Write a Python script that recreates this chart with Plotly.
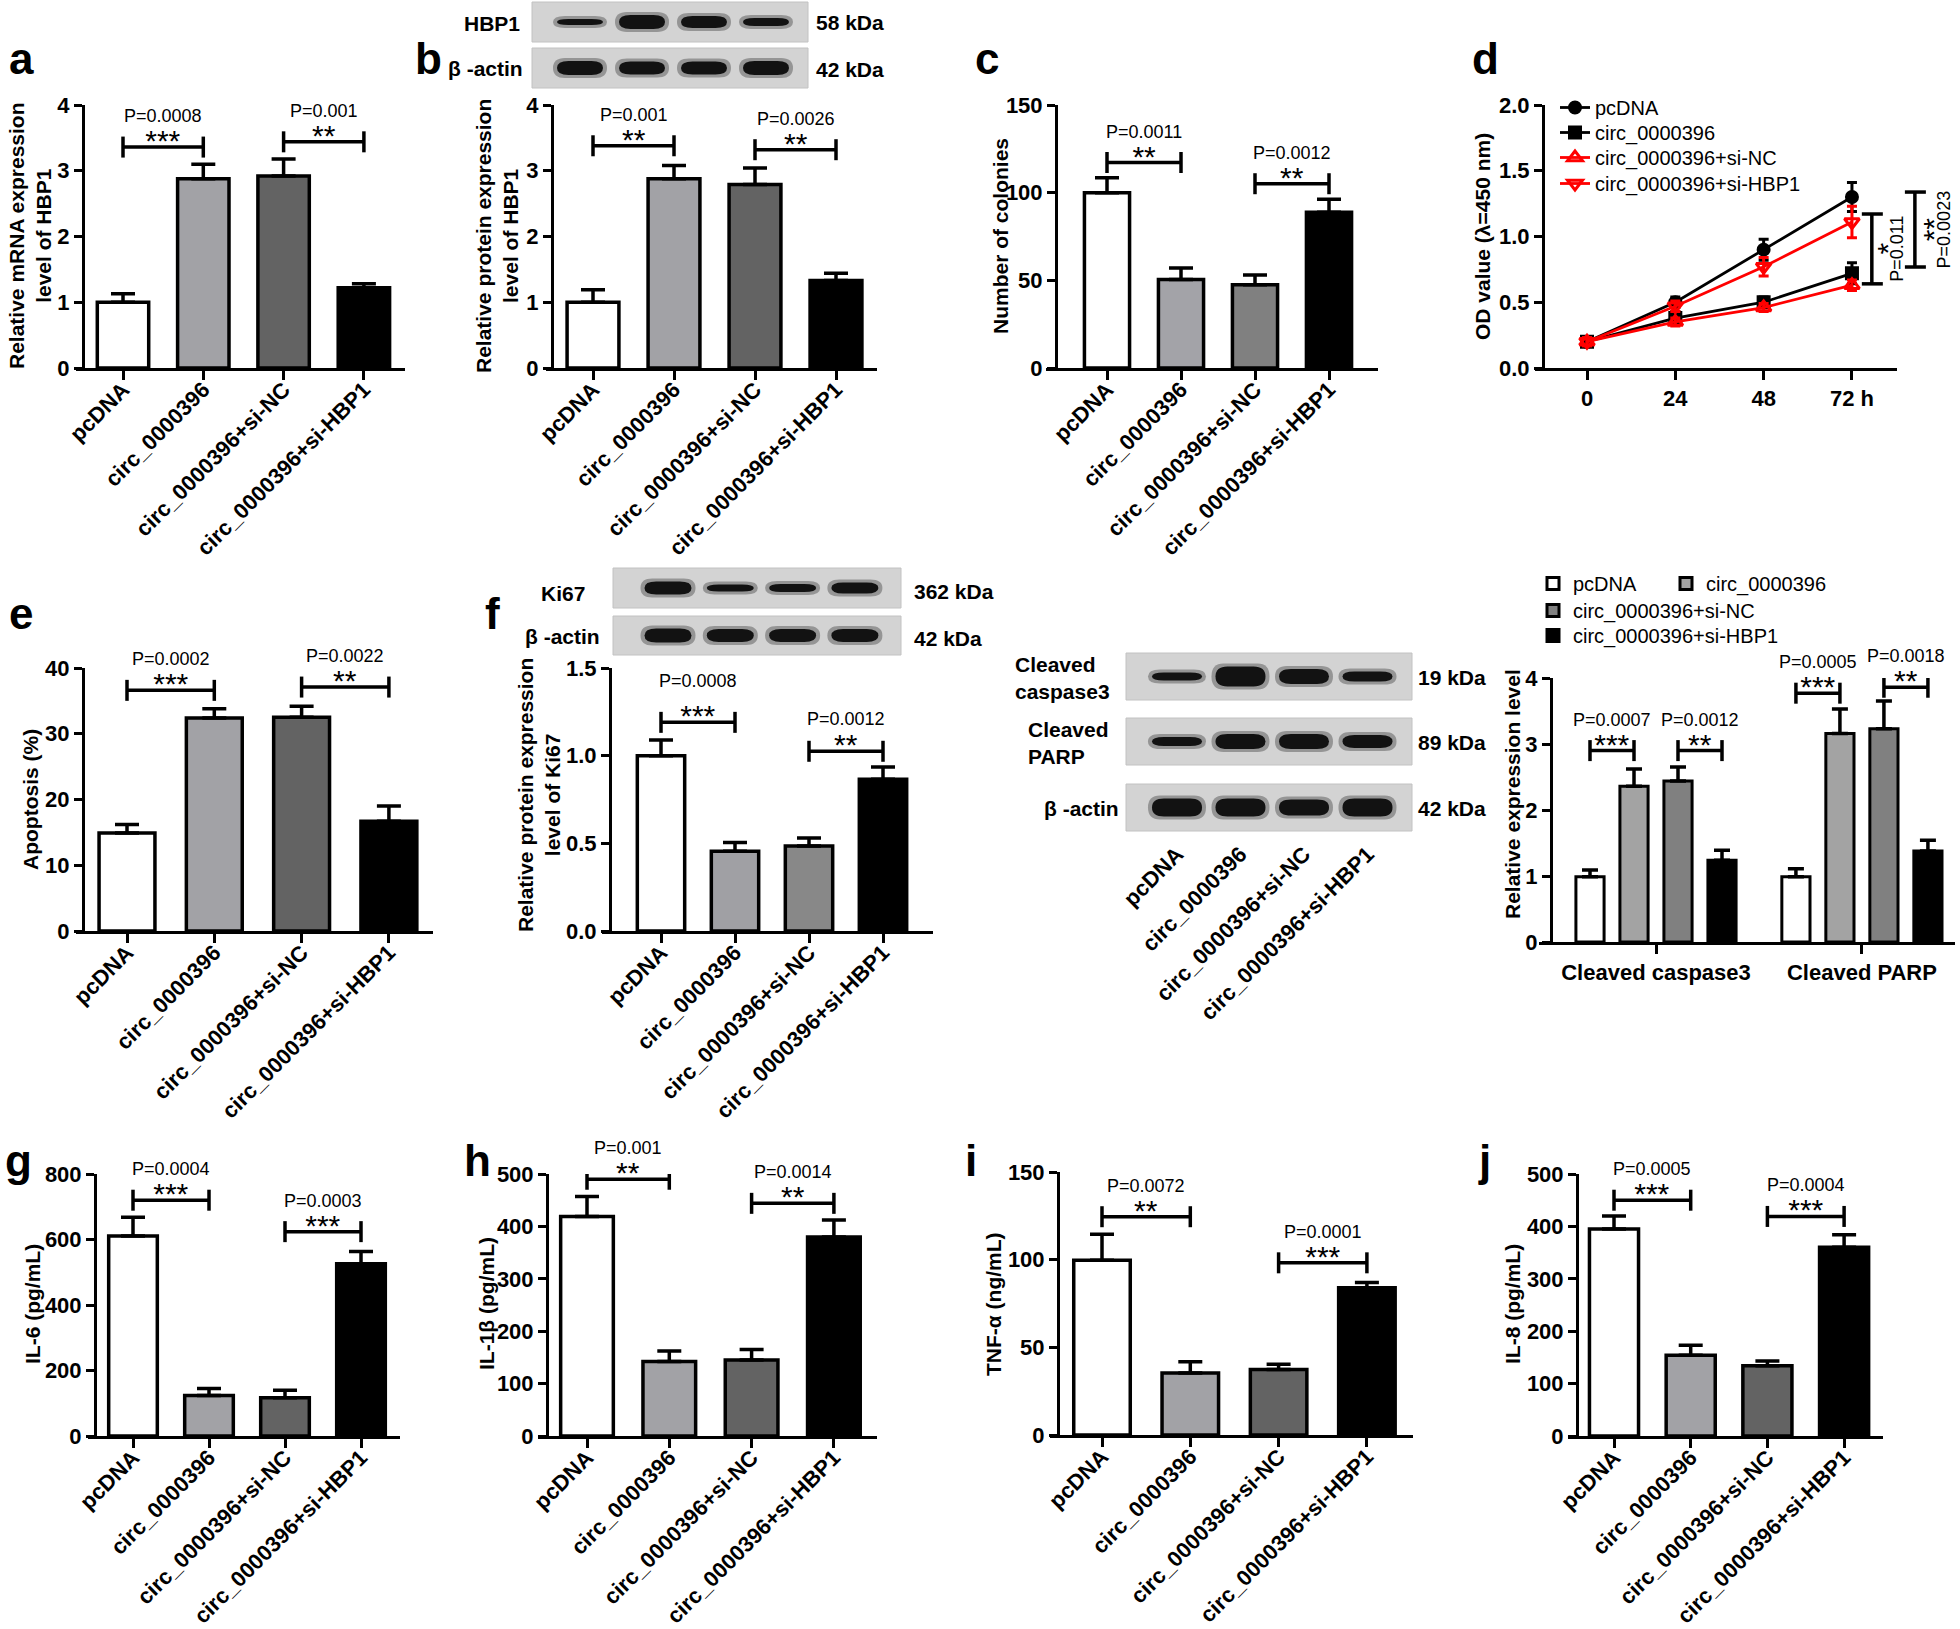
import plotly.graph_objects as go

W, H = 1960, 1629
FONT = "Liberation Sans, Arial, Helvetica, sans-serif"

# ---------------- data ----------------
groups = ["pcDNA", "circ_0000396", "circ_0000396+si-NC", "circ_0000396+si-HBP1"]

a_mean = [1.0, 2.88, 2.92, 1.22]
a_err = [0.13, 0.22, 0.26, 0.06]
a_brackets = [(0, 1, 3.36, "***", "P=0.0008"), (2, 3, 3.44, "**", "P=0.001")]

b_mean = [1.0, 2.88, 2.79, 1.33]
b_err = [0.19, 0.20, 0.25, 0.11]
b_brackets = [(0, 1, 3.38, "**", "P=0.001"), (2, 3, 3.32, "**", "P=0.0026")]

c_mean = [100, 50.5, 47.5, 88.8]
c_err = [8.5, 6.5, 5.5, 7.5]
c_brackets = [(0, 1, 117.2, "**", "P=0.0011"), (2, 3, 105.1, "**", "P=0.0012")]

d_time = [0, 24, 48, 72]
d_time_text = ["0", "24", "48", "72 h"]
d_pcDNA = [0.2, 0.5, 0.9, 1.3]
d_pcDNA_err = [0.02, 0.04, 0.08, 0.11]
d_circ = [0.2, 0.38, 0.5, 0.72]
d_circ_err = [0.02, 0.05, 0.04, 0.08]
d_siNC = [0.2, 0.35, 0.46, 0.63]
d_siNC_err = [0.03, 0.03, 0.03, 0.04]
d_siHBP1 = [0.2, 0.47, 0.77, 1.11]
d_siHBP1_err = [0.03, 0.04, 0.07, 0.12]
# (x in hours, y low, y high, stars, p)
d_brackets = [(77.4, 0.64, 1.171, "*", "P=0.011"), (89.1, 0.768, 1.338, "**", "P=0.0023")]

e_mean = [14.9, 32.4, 32.5, 16.7]
e_err = [1.3, 1.4, 1.7, 2.3]
e_brackets = [(0, 1, 36.6, "***", "P=0.0002"), (2, 3, 37.1, "**", "P=0.0022")]

f_mean = [1.0, 0.455, 0.485, 0.865]
f_err = [0.09, 0.05, 0.045, 0.07]
f_brackets = [(0, 1, 1.19, "***", "P=0.0008"), (2, 3, 1.025, "**", "P=0.0012")]

casp_targets = ["Cleaved caspase3", "Cleaved PARP"]
casp_mean = [[0.99, 0.99], [2.36, 3.16], [2.44, 3.23], [1.24, 1.38]]
casp_err = [[0.10, 0.12], [0.26, 0.37], [0.21, 0.42], [0.15, 0.16]]
# (target index, group i, group j, y, stars, p)
casp_brackets = [(0, 0, 1, 2.9, "***", "P=0.0007"), (0, 2, 3, 2.9, "**", "P=0.0012"),
                 (1, 0, 1, 3.77, "***", "P=0.0005"), (1, 2, 3, 3.86, "**", "P=0.0018")]

g_mean = [611, 124, 117, 526]
g_err = [57, 21, 23, 37]
g_brackets = [(0, 1, 720, "***", "P=0.0004"), (2, 3, 624, "***", "P=0.0003")]

h_mean = [419, 142, 145, 380]
h_err = [38, 20, 20, 32]
h_brackets = [(0, 1, 490, "**", "P=0.001"), (2, 3, 444, "**", "P=0.0014")]

i_mean = [99.6, 35.3, 37.3, 84.0]
i_err = [14.9, 6.5, 3.1, 3.0]
i_brackets = [(0, 1, 124.5, "**", "P=0.0072"), (2, 3, 98.2, "***", "P=0.0001")]

j_mean = [395, 154, 134, 360]
j_err = [25, 19, 9, 24]
j_brackets = [(0, 1, 450, "***", "P=0.0005"), (2, 3, 419, "***", "P=0.0004")]

# western blot band thickness (relative intensity)
blot_b_labels = ["HBP1", "β -actin"]
blot_b_kda = ["58 kDa", "42 kDa"]
blot_b_bands = [[6, 14, 12, 8], [14, 13, 13, 14]]
blot_f_labels = ["Ki67", "β -actin"]
blot_f_kda = ["362 kDa", "42 kDa"]
blot_f_bands = [[13, 7, 8, 11], [14, 13, 13, 13]]
blot_c_labels = ["Cleaved<br>caspase3", "Cleaved<br>PARP", "β -actin"]
blot_c_kda = ["19 kDa", "89 kDa", "42 kDa"]
blot_c_bands = [[8, 20, 15, 10], [9, 15, 15, 13], [18, 18, 16, 18]]

# ---------------- styling / layout ----------------
COL_STD = ["white", "#a2a2a6", "#636363", "black"]
COL_C = ["white", "#a3a3a8", "#808080", "black"]
COL_F = ["white", "#a0a0a4", "#888888", "black"]
COL_CASP = ["white", "#a3a3a3", "#808080", "black"]


def X(px):
    return px / W


def Y(py):
    return 1 - py / H


fig = go.Figure()
axes = {}
shapes = []
annotations = []

BOLD = dict(family=FONT, size=21, color="black", weight="bold")
TICKF = dict(family=FONT, size=22, color="black", weight="bold")


def sig_text(p, stars, star_first=False):
    ps = f"<span style='font-size:18px'>{p}</span>"
    ss = f"<span style='font-size:30px'>{stars}</span>"
    return f"{ss}<br>{ps}" if star_first else f"{ps}<br>{ss}"


def add_axes(n, geom, yrange, dtick, tickformat=None, xticks=None, xticktext=None, tickangle=-45,
             standoff=-12):
    yax, xs, xe, c0, sp, top, bot = geom
    sfx = "" if n == 1 else str(n)
    axes["xaxis" + sfx] = dict(
        domain=[X(xs), X(xe)], range=[(xs - c0) / sp, (xe - c0) / sp], anchor="y" + sfx,
        showline=True, linewidth=3, linecolor="black", ticks="outside", ticklen=9,
        tickwidth=3, tickcolor="black", tickvals=xticks, ticktext=xticktext,
        tickangle=tickangle, ticklabelstandoff=standoff,
        showgrid=False, zeroline=False, tickfont=TICKF, fixedrange=True)
    axes["yaxis" + sfx] = dict(
        domain=[Y(bot), Y(top)], range=yrange, anchor="free", position=X(yax),
        showline=True, linewidth=3, linecolor="black", ticks="outside", ticklen=8,
        tickwidth=3, tickcolor="black", tick0=0, dtick=dtick, tickformat=tickformat,
        showgrid=False, zeroline=False, tickfont=TICKF, fixedrange=True)
    return "x" + sfx, "y" + sfx, (bot - top) / (yrange[1] - yrange[0])


def add_bracket(xr, yr, xi, xj, yv, stars, ptxt, ppu, gap=22):
    tk = 10.5 / ppu
    ln = dict(color="black", width=3.5)
    shapes.append(dict(type="line", xref=xr, yref=yr, x0=xi, x1=xj, y0=yv, y1=yv, line=ln))
    shapes.append(dict(type="line", xref=xr, yref=yr, x0=xi, x1=xi, y0=yv - tk, y1=yv + tk, line=ln))
    shapes.append(dict(type="line", xref=xr, yref=yr, x0=xj, x1=xj, y0=yv - tk, y1=yv + tk, line=ln))
    annotations.append(dict(xref=xr, yref=yr, x=(xi + xj) / 2, y=yv, text=sig_text(ptxt, stars),
                            showarrow=False, xanchor="center", yanchor="bottom", yshift=-12,
                            font=dict(family=FONT, size=gap, color="black")))


def bar_panel(n, means, errs, colors, geom, yrange, dtick, brackets, bw=0.64,
              tickformat=None, cap=12, gaps=(22, 22)):
    xs_idx = list(range(len(groups)))
    xr, yr, ppu = add_axes(n, geom, yrange, dtick, tickformat, xs_idx, groups)
    fig.add_trace(go.Bar(
        x=xs_idx, y=means, width=bw, xaxis=xr, yaxis=yr, showlegend=False,
        marker=dict(color=colors, line=dict(color="black", width=3.5)),
        error_y=dict(type="data", array=errs, arrayminus=[0] * len(errs), symmetric=False,
                     color="black", thickness=3.5, width=cap)))
    for (i, j, yv, st, p), gp in zip(brackets, gaps):
        add_bracket(xr, yr, xs_idx[i], xs_idx[j], yv, st, p, ppu, gap=gp)


# geometry: (y-axis px, x-axis start px, x-axis end px, first category px, spacing px, top px, bottom px)
bar_panel(1, a_mean, a_err, COL_STD, (83, 76, 405, 123, 80.3, 105, 368), [0, 4], 1, a_brackets)
bar_panel(2, b_mean, b_err, COL_STD, (552, 546, 877, 593, 81, 105, 368), [0, 4], 1, b_brackets)
bar_panel(3, c_mean, c_err, COL_C, (1056, 1046, 1378, 1107, 74, 105, 368), [0, 150], 50,
          c_brackets, bw=0.61)
bar_panel(5, e_mean, e_err, COL_STD, (83, 76, 433, 127, 87.3, 668, 931), [0, 40], 10, e_brackets)
bar_panel(6, f_mean, f_err, COL_F, (610, 602, 933, 661, 74, 668, 931), [0, 1.5], 0.5,
          f_brackets, tickformat=".1f", gaps=(30, 23))
bar_panel(8, g_mean, g_err, COL_STD, (95, 88, 400, 133, 76, 1174, 1436), [0, 800], 200, g_brackets)
bar_panel(9, h_mean, h_err, COL_STD, (547, 538, 877, 587, 82.3, 1174, 1436), [0, 500], 100, h_brackets)
bar_panel(10, i_mean, i_err, COL_STD, (1058, 1050, 1413, 1102, 88.3, 1172, 1435), [0, 150], 50,
          i_brackets)
bar_panel(11, j_mean, j_err, COL_STD, (1577, 1568, 1883, 1614, 76.7, 1174, 1436), [0, 500], 100,
          j_brackets)

# ---------------- panel d (line chart) ----------------
d_geom = (1543, 1535, 1897, 1587, 3.68, 105, 368)
xr4, yr4, ppu4 = add_axes(4, d_geom, [0, 2], 0.5, ".1f", d_time, d_time_text, tickangle=0, standoff=0)
d_series = [
    ("pcDNA", d_pcDNA, d_pcDNA_err, "black", "circle", 11),
    ("circ_0000396", d_circ, d_circ_err, "black", "square", 11),
    ("circ_0000396+si-NC", d_siNC, d_siNC_err, "#ff0000", "triangle-up-open", 13),
    ("circ_0000396+si-HBP1", d_siHBP1, d_siHBP1_err, "#ff0000", "triangle-down-open", 13),
]
d_legend_ids = ["legend", "legend4", "legend5", "legend6"]
for (name, ys, es, col, sym, sz), lg in zip(d_series, d_legend_ids):
    fig.add_trace(go.Scatter(
        x=d_time, y=ys, name=name, mode="lines+markers", xaxis=xr4, yaxis=yr4,
        legend=lg, cliponaxis=False,
        line=dict(color=col, width=2.8),
        marker=dict(symbol=sym, size=sz, color=col, line=dict(color=col, width=3)),
        error_y=dict(type="data", array=es, symmetric=True, color=col, thickness=3, width=5)))


def d_px_x(hour):
    return d_geom[3] + hour * d_geom[4]


def d_px_y(v):
    return d_geom[6] - v * ppu4


for (hx, ylo, yhi, st, p), tshift in zip(d_brackets, [17, 20]):
    px = d_px_x(hx)
    p0, p1 = d_px_y(ylo), d_px_y(yhi)
    ln = dict(color="black", width=3.5)
    shapes.append(dict(type="line", xref="paper", yref="paper", x0=X(px), x1=X(px), y0=Y(p0), y1=Y(p1), line=ln))
    for pp in (p0, p1):
        shapes.append(dict(type="line", xref="paper", yref="paper", x0=X(px - 10), x1=X(px + 11),
                           y0=Y(pp), y1=Y(pp), line=ln))
    ym = (p0 + p1) / 2
    annotations.append(dict(xref="paper", yref="paper", x=X(px + tshift), y=Y(ym),
                            text=sig_text(p, st, star_first=True), textangle=-90,
                            showarrow=False, xanchor="center", yanchor="middle",
                            font=dict(family=FONT, size=4, color="black")))

# ---------------- caspase / PARP grouped bars ----------------
casp_group_pos = [0, 4.68]
casp_legends = ["legend2", "legend8", "legend3", "legend7"]
xr7, yr7, ppu7 = add_axes(7, (1551, 1539, 1955, 1656, 44, 678, 942), [0, 4], 1, None,
                          casp_group_pos, casp_targets, tickangle=0, standoff=0)
for s, name in enumerate(groups):
    xs = [gp + s - 1.5 for gp in casp_group_pos]
    fig.add_trace(go.Bar(
        x=xs, y=casp_mean[s], width=0.64, name=name, xaxis=xr7, yaxis=yr7, legend=casp_legends[s],
        marker=dict(color=COL_CASP[s], line=dict(color="black", width=3)),
        error_y=dict(type="data", array=casp_err[s], arrayminus=[0, 0], symmetric=False,
                     color="black", thickness=3.5, width=8)))
for (t, gi, gj, yv, st, p) in casp_brackets:
    add_bracket(xr7, yr7, casp_group_pos[t] + gi - 1.5, casp_group_pos[t] + gj - 1.5, yv, st, p, ppu7)

# ---------------- western blots (decorative) ----------------
def band_path(xc, yc, w, h):
    x0, x1 = xc - w / 2, xc + w / 2
    y0, y1 = yc - h / 2, yc + h / 2
    r = min(w / 4, 12)
    P = lambda x, y: f"{X(x):.5f},{Y(y):.5f}"
    return (f"M {P(x0 + r, y0)} L {P(x1 - r, y0)} Q {P(x1, y0)} {P(x1, yc)} "
            f"Q {P(x1, y1)} {P(x1 - r, y1)} L {P(x0 + r, y1)} Q {P(x0, y1)} {P(x0, yc)} "
            f"Q {P(x0, y0)} {P(x0 + r, y0)} Z")


def draw_blot(x0, x1, lane0, lane_sp, rows, bands, band_w):
    for (yt, yb), thick in zip(rows, bands):
        shapes.append(dict(type="rect", xref="paper", yref="paper", x0=X(x0), x1=X(x1), y0=Y(yb), y1=Y(yt),
                           fillcolor="#d3d3d3", line=dict(color="#c2c2c2", width=1)))
        yc = (yt + yb) / 2
        for k, t in enumerate(thick):
            xc = lane0 + k * lane_sp
            shapes.append(dict(type="path", xref="paper", yref="paper", path=band_path(xc, yc, band_w + 8, t + 6),
                               fillcolor="#4a4a4a", opacity=0.45, line=dict(width=0)))
            shapes.append(dict(type="path", xref="paper", yref="paper", path=band_path(xc, yc, band_w, t),
                               fillcolor="#121212", line=dict(width=0)))


def blot_text(x, y, text, anchor="left", align="left"):
    annotations.append(dict(xref="paper", yref="paper", x=X(x), y=Y(y), text=text, showarrow=False,
                            xanchor=anchor, yanchor="middle", align=align, font=BOLD))


# blot b
b_rows = [(2, 42), (48, 88)]
draw_blot(532, 808, 580, 62, b_rows, blot_b_bands, 46)
blot_text(492, 24, blot_b_labels[0], "center")
blot_text(525, 68, blot_b_labels[1], "right")
for (yt, yb), k in zip(b_rows, blot_b_kda):
    blot_text(814, (yt + yb) / 2 + 1, k)

# blot f
f_rows = [(568, 608), (616, 655)]
draw_blot(613, 901, 668, 62.3, f_rows, blot_f_bands, 47)
blot_text(563, 593, blot_f_labels[0], "center")
blot_text(602, 636, blot_f_labels[1], "right")
for (yt, yb), k in zip(f_rows, blot_f_kda):
    blot_text(912, (yt + yb) / 2 + 3, k)

# blot caspase / PARP
c_rows = [(653, 700), (718, 765), (784, 831)]
draw_blot(1126, 1412, 1177, 63.5, c_rows, blot_c_bands, 50)
blot_text(1013, 678, blot_c_labels[0])
blot_text(1026, 743, blot_c_labels[1])
blot_text(1121, 809, blot_c_labels[2], "right")
for (yt, yb), k in zip(c_rows, blot_c_kda):
    blot_text(1416, (yt + yb) / 2 + 1, k)

# lane labels of the caspase blot through an invisible axis
axes["xaxis12"] = dict(domain=[X(1126), X(1412)], range=[-0.8, 3.7], anchor="y12", showline=False,
                       showgrid=False, zeroline=False, ticks="", tickvals=list(range(4)), ticktext=groups,
                       tickangle=-45, tickfont=TICKF, fixedrange=True)
axes["yaxis12"] = dict(domain=[Y(836), Y(653)], range=[0, 1], anchor="x12", visible=False, fixedrange=True)
fig.add_trace(go.Scatter(x=[0], y=[0.5], xaxis="x12", yaxis="y12", mode="markers",
                         marker=dict(opacity=0), showlegend=False, hoverinfo="skip"))

# ---------------- axis titles and panel letters ----------------
titles = [
    (30, 236, "Relative mRNA expression<br>level of HBP1"),
    (497, 236, "Relative protein expression<br>level of HBP1"),
    (1001, 236, "Number of colonies"),
    (1483, 237, "OD value (λ=450 nm)"),
    (30, 800, "Apoptosis (%)"),
    (539, 795, "Relative protein expression<br>level of Ki67"),
    (1512, 794, "Relative expression level"),
    (32, 1304, "IL-6 (pg/mL)"),
    (486, 1304, "IL-1β (pg/mL)"),
    (993, 1304, "TNF-α (ng/mL)"),
    (1512, 1304, "IL-8 (pg/mL)"),
]
for x, y, t in titles:
    annotations.append(dict(xref="paper", yref="paper", x=X(x), y=Y(y), text=t, textangle=-90,
                            showarrow=False, xanchor="center", yanchor="middle", font=BOLD))

letters = [(7, 58, "a"), (413, 58, "b"), (973, 58, "c"), (1470, 58, "d"),
           (7, 613, "e"), (483, 613, "f"),
           (3, 1160, "g"), (462, 1160, "h"), (963, 1160, "i"), (1476, 1160, "j")]
for x, y, t in letters:
    annotations.append(dict(xref="paper", yref="paper", x=X(x), y=Y(y), text=t, showarrow=False,
                            xanchor="left", yanchor="middle",
                            font=dict(family=FONT, size=44, color="black", weight="bold")))

LEG_FONT = dict(family=FONT, size=20, color="black")


def leg(x, top, orient="v", **kw):
    return dict(x=X(x), y=Y(top), xanchor="left", yanchor="top", orientation=orient,
                bgcolor="rgba(0,0,0,0)", font=LEG_FONT, tracegroupgap=0, **kw)


fig.update_layout(
    width=W, height=H, margin=dict(l=0, r=0, t=0, b=0, autoexpand=False),
    paper_bgcolor="white", plot_bgcolor="white", barmode="overlay",
    font=dict(family=FONT, color="black"),
    shapes=shapes, annotations=annotations,
    legend=leg(1555, 88), legend4=leg(1555, 113), legend5=leg(1555, 138), legend6=leg(1555, 164),
    legend2=leg(1533, 564), legend8=leg(1666, 564),
    legend3=leg(1533, 591), legend7=leg(1533, 616),
    **axes,
)

fig.write_html("out.html", config={"displayModeBar": False},
               post_script="document.body.style.margin='0';")
